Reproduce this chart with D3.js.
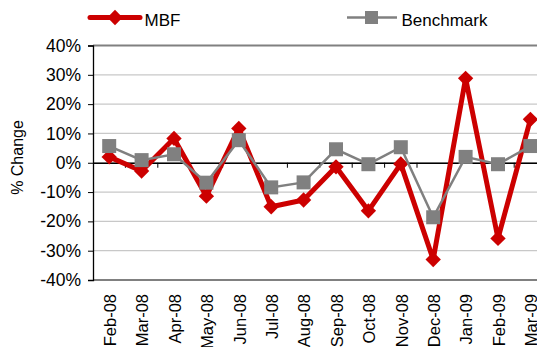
<!DOCTYPE html>
<html>
<head>
<meta charset="utf-8">
<script src="https://cdn.jsdelivr.net/npm/d3@7"></script>
<style>
  html, body { margin: 0; padding: 0; background: #fff; }
  svg { display: block; font-family: "Liberation Sans", Arial, sans-serif; }
</style>
</head>
<body>
<svg id="chart" width="537" height="347"></svg>
<script>
// Monthly % change, MBF vs. benchmark
const months = ["Feb-08", "Mar-08", "Apr-08", "May-08", "Jun-08", "Jul-08", "Aug-08",
                "Sep-08", "Oct-08", "Nov-08", "Dec-08", "Jan-09", "Feb-09", "Mar-09"];
const mbf = [2.0, -2.8, 8.3, -11.4, 11.7, -15.0, -12.7, -1.4, -16.4, -0.4, -33.0, 28.8, -25.8, 14.8];
const benchmark = [5.7, 0.9, 2.9, -6.8, 7.7, -8.4, -6.7, 4.6, -0.5, 5.3, -18.6, 2.0, -0.5, 5.7];
const yTicks = [-40, -30, -20, -10, 0, 10, 20, 30, 40];

const svg = d3.select("#chart");
const plotLeft = 93, plotTop = 45.5, plotBottom = 280;
const step = 32.4;

const x = d3.scaleBand().domain(months).range([plotLeft, plotLeft + step * months.length]).padding(0);
const y = d3.scaleLinear().domain([-40, 40]).range([plotBottom, plotTop]);
const cx = d => x(d) + x.bandwidth() / 2;

// gridlines
svg.append("g").selectAll("line").data(yTicks).join("line")
  .attr("x1", plotLeft).attr("x2", 537)
  .attr("y1", d => y(d)).attr("y2", d => y(d))
  .attr("stroke", d => (d === 40 || d === -40) ? "#808080" : "#c8c8c8")
  .attr("stroke-width", d => (d === 40 || d === -40) ? 1.8 : 1.2);

// y axis
const yAxis = d3.axisLeft(y).tickValues(yTicks).tickSize(5).tickFormat(d => d + "%");
const gy = svg.append("g").attr("transform", `translate(${plotLeft},0)`).call(yAxis);
gy.select(".domain").attr("stroke", "#000").attr("stroke-width", 1.3);
gy.selectAll(".tick line").attr("stroke", "#000");
gy.selectAll(".tick text").attr("font-size", 17.5).attr("fill", "#000").attr("x", -12)
  .attr("font-family", "Liberation Sans, Arial, sans-serif");

// x axis along zero line, ticks between categories
const xAxis = d3.axisBottom(x).tickSize(0).tickFormat("");
const gx = svg.append("g").attr("transform", `translate(0,${y(0)})`).call(xAxis);
gx.select(".domain").attr("stroke", "#000").attr("stroke-width", 1.3);
gx.selectAll(".tick").remove();
gx.selectAll(".sep").data(months.slice(1)).join("line")
  .attr("x1", d => x(d)).attr("x2", d => x(d))
  .attr("y1", 0).attr("y2", 5).attr("stroke", "#000");

// category labels at the bottom
svg.append("g").selectAll("text").data(months).join("text")
  .attr("transform", d => `translate(${cx(d) + 1},294) rotate(-90)`)
  .attr("text-anchor", "end")
  .attr("dy", "0.35em")
  .attr("font-size", 16.5)
  .attr("fill", "#000")
  .text(d => d);

// y axis title
svg.append("text")
  .attr("transform", `translate(22.5,157.5) rotate(-90)`)
  .attr("text-anchor", "middle")
  .attr("font-size", 16)
  .text("% Change");

const line = d3.line().x((d, i) => cx(months[i])).y(d => y(d));
const diamond = d3.symbol().type(d3.symbolDiamond2).size(150);

// MBF series
svg.append("path").datum(mbf).attr("d", line)
  .attr("fill", "none").attr("stroke", "#cc0000").attr("stroke-width", 5)
  .attr("stroke-linejoin", "round");
svg.append("g").selectAll("path").data(mbf).join("path")
  .attr("transform", (d, i) => `translate(${cx(months[i])},${y(d)})`)
  .attr("d", diamond).attr("fill", "#cc0000");

// Benchmark series
svg.append("path").datum(benchmark).attr("d", line)
  .attr("fill", "none").attr("stroke", "#808080").attr("stroke-width", 2.5);
svg.append("g").selectAll("rect").data(benchmark).join("rect")
  .attr("x", (d, i) => cx(months[i]) - 7).attr("y", d => y(d) - 7)
  .attr("width", 14).attr("height", 14).attr("fill", "#808080");

// legend
const lg = svg.append("g");
lg.append("line").attr("x1", 90).attr("x2", 140).attr("y1", 17.5).attr("y2", 17.5)
  .attr("stroke", "#cc0000").attr("stroke-width", 5).attr("stroke-linecap", "round");
lg.append("path").attr("transform", "translate(115,17.5)").attr("d", diamond).attr("fill", "#cc0000");
lg.append("text").attr("x", 144.5).attr("y", 25.5).attr("font-size", 17).text("MBF");

lg.append("line").attr("x1", 347).attr("x2", 397).attr("y1", 17.5).attr("y2", 17.5)
  .attr("stroke", "#808080").attr("stroke-width", 2.5);
lg.append("rect").attr("x", 365).attr("y", 11).attr("width", 13).attr("height", 13).attr("fill", "#808080");
lg.append("text").attr("x", 401.5).attr("y", 25.5).attr("font-size", 17).text("Benchmark");
</script>
</body>
</html>
